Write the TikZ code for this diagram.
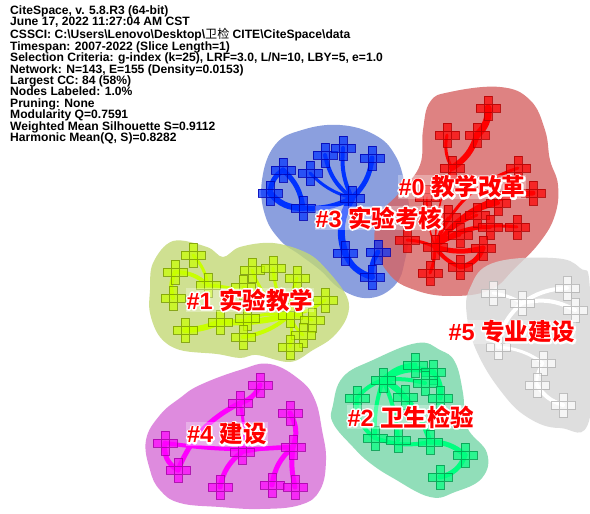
\documentclass[tikz,border=0pt]{standalone}
\usepackage{fontspec}
\setmainfont{Liberation Sans}
\newfontfamily\cjk{Noto Sans CJK SC}
\pgfdeclarelayer{blobs}\pgfdeclarelayer{edges}
\pgfsetlayers{blobs,edges,main}
\definecolor{bRed}{RGB}{214,99,99}
\definecolor{bBlue}{RGB}{111,136,214}
\definecolor{bYg}{RGB}{195,217,118}
\definecolor{bMag}{RGB}{214,111,214}
\definecolor{bGrn}{RGB}{118,214,168}
\definecolor{bGry}{RGB}{214,214,214}
\definecolor{eRed}{RGB}{255,0,0}
\definecolor{eBlue}{RGB}{0,50,255}
\definecolor{eYg}{RGB}{200,255,0}
\definecolor{eMag}{RGB}{255,0,255}
\definecolor{eGrn}{RGB}{0,255,128}
\tikzset{
  blob/.style={fill=#1, fill opacity=0.8, draw=none},
  cr/.style 2 args={minimum size=28pt, inner sep=0pt, path picture={
    \path[fill=#1, fill opacity=0.7, draw=#2, line width=0.6pt, draw opacity=0.8]
      ([xshift=-12pt,yshift=-3.8pt]path picture bounding box.center) rectangle ([xshift=12pt,yshift=3.8pt]path picture bounding box.center)
      ([xshift=-3.8pt,yshift=-12pt]path picture bounding box.center) rectangle ([xshift=3.8pt,yshift=12pt]path picture bounding box.center);
  }},
  rn/.style={cr={eRed}{red!70!black}},
  bn/.style={cr={eBlue}{blue!70!black}},
  yn/.style={cr={eYg}{eYg!60!black}},
  mn/.style={cr={eMag}{eMag!65!black}},
  gn/.style={cr={eGrn}{eGrn!60!black}},
  wn/.style={cr={white}{black!30}},
  lbl/.style={font=\fontsize{23.5}{23.5}\selectfont, inner sep=1pt},
  lblbox/.style={lbl, fill=white, fill opacity=0.3, text opacity=0},
}
% white outline drawn by the text itself (render mode 2: fill, then stroke)
\newcommand\haloed[1]{\special{pdf:literal direct q 1 1 1 RG 3.2 w 1 j 1 Tr}#1\special{pdf:literal direct 0 Tr Q}}
\newcommand\clab[3]{%
  \node[lblbox] at (#2) {#3};
  \node[lbl,text=white] at (#2) {\haloed{#3}};
  \node[lbl,text=red] (#1) at (#2) {#3};
}
\begin{document}
\begin{tikzpicture}[x=1pt,y=-1pt]
\useasboundingbox (0,0) rectangle (590,514);
% ---------- blobs
\begin{pgfonlayer}{blobs}
\fill[white] (0,0) rectangle (590,514);
\path[blob=bBlue] plot[smooth cycle, tension=0.7] coordinates {(275,145) (302,130) (340,125) (375,135) (395,155) (405,185) (410,220) (405,260) (395,285) (370,298) (342,290) (320,270) (300,255) (280,240) (265,215) (262,180)};
\path[blob=bYg] plot[smooth cycle, tension=0.6] coordinates {(153,263) (173,241) (207,247) (223,257) (240,247) (273,243) (307,253) (327,270) (347,297) (347,317) (333,337) (313,350) (290,362) (257,355) (240,358) (217,354) (180,350) (160,337) (150,313) (150,290)};
\path[blob=bRed] plot[smooth cycle, tension=0.7] coordinates {(450,92) (500,87) (530,100) (545,130) (550,160) (558,185) (555,215) (540,242) (515,268) (490,290) (450,296) (415,290) (390,275) (375,245) (380,215) (400,192) (420,165) (423,130) (430,102)};
\path[blob=bMag] plot[smooth cycle, tension=0.7] coordinates {(200,385) (240,370) (270,364) (300,380) (315,400) (322,430) (326,460) (320,490) (300,505) (260,509) (220,507) (180,503) (160,490) (150,470) (146,440) (160,415) (180,398)};
\path[blob=bGrn] plot[smooth cycle, tension=0.7] coordinates {(417,343) (440,350) (455,362) (463,393) (467,427) (487,453) (482,478) (455,492) (430,497) (393,478) (370,463) (353,447) (333,423) (333,405) (343,377) (373,360)};
\path[blob=bGry] plot[smooth cycle, tension=0.7] coordinates {(493,263) (553,258) (580,268) (590,290) (590,417) (560,428) (527,417) (500,390) (477,352) (467,317) (470,288)};
\end{pgfonlayer}
% ---------- header
\node[anchor=north west, align=left, inner sep=0pt, font=\bfseries\fontsize{12.1}{11.4}\selectfont] (hdr) at (10,5.5) {CiteSpace, v. 5.8.R3 (64-bit)\\
June 17, 2022 11:27:04 AM CST\\
CSSCI: C:\textbackslash Users\textbackslash Lenovo\textbackslash Desktop\textbackslash{\mdseries\cjk 卫检} CITE\textbackslash CiteSpace\textbackslash data\\
Timespan: 2007-2022 (Slice Length=1)\\
Selection Criteria: g-index (k=25), LRF=3.0, L/N=10, LBY=5, e=1.0\\
Network: N=143, E=155 (Density=0.0153)\\
Largest CC: 84 (58\%)\\
Nodes Labeled: 1.0\%\\
Pruning: None\\
Modularity Q=0.7591\\
Weighted Mean Silhouette S=0.9112\\
Harmonic Mean(Q, S)=0.8282};
% ---------- red nodes
\node[rn] (r1) at (488,108) {}; \node[rn] (r2) at (477,135) {}; \node[rn] (r3) at (447,135) {};
\node[rn] (r4) at (452,168) {}; \node[rn] (r5) at (518,168) {}; \node[rn] (r6) at (533,193) {};
\node[rn] (r7) at (498,203) {}; \node[rn] (r8) at (427,197) {}; \node[rn] (r9) at (477,215) {};
\node[rn] (r10) at (490,227) {}; \node[rn] (r11) at (517,227) {}; \node[rn] (r12) at (460,235) {};
\node[rn] (r13) at (407,240) {}; \node[rn] (r14) at (435,247) {}; \node[rn] (r15) at (483,248) {};
\node[rn] (r16) at (460,267) {}; \node[rn] (r17) at (430,273) {}; \node[rn] (r18) at (448,217) {};
% blue nodes
\node[bn] (b1) at (283,170) {}; \node[bn] (b2) at (270,193) {}; \node[bn] (b3) at (303,208) {};
\node[bn] (b4) at (310,173) {}; \node[bn] (b5) at (325,155) {}; \node[bn] (b6) at (343,148) {};
\node[bn] (b7) at (372,158) {}; \node[bn] (b8) at (352,198) {}; \node[bn] (b9) at (345,253) {};
\node[bn] (b10) at (378,252) {}; \node[bn] (b11) at (372,277) {};
% yellow-green nodes
\node[yn] (g1) at (193,255) {}; \node[yn] (g2) at (175,272) {}; \node[yn] (g3) at (173,298) {};
\node[yn] (g4) at (208,285) {}; \node[yn] (g5) at (252,270) {}; \node[yn] (g6) at (273,268) {};
\node[yn] (g7) at (297,278) {}; \node[yn] (g8) at (243,287) {}; \node[yn] (g9) at (325,300) {};
\node[yn] (g10) at (290,315) {}; \node[yn] (g11) at (220,322) {}; \node[yn] (g12) at (247,318) {};
\node[yn] (g13) at (312,320) {}; \node[yn] (g14) at (185,330) {}; \node[yn] (g15) at (243,337) {};
\node[yn] (g16) at (303,335) {}; \node[yn] (g17) at (290,347) {};
% magenta nodes
\node[mn] (m1) at (260,385) {}; \node[mn] (m2) at (240,403) {}; \node[mn] (m3) at (290,413) {};
\node[mn] (m4) at (165,443) {}; \node[mn] (m6) at (242,452) {}; \node[mn] (m7) at (293,447) {};
\node[mn] (m8) at (178,470) {}; \node[mn] (m9) at (220,487) {}; \node[mn] (m10) at (272,485) {};
\node[mn] (m11) at (295,487) {};
% green nodes
\node[gn] (e1) at (415,365) {}; \node[gn] (e2) at (433,372) {}; \node[gn] (e3) at (383,380) {};
\node[gn] (e4) at (425,383) {}; \node[gn] (e5) at (357,398) {}; \node[gn] (e6) at (405,397) {};
\node[gn] (e7) at (440,398) {}; \node[gn] (e9) at (375,438) {}; \node[gn] (e10) at (398,440) {};
\node[gn] (e11) at (430,442) {}; \node[gn] (e12) at (465,455) {}; \node[gn] (e13) at (440,477) {};
% gray nodes
\node[wn] (w1) at (493,293) {}; \node[wn] (w2) at (522,303) {}; \node[wn] (w3) at (567,288) {};
\node[wn] (w4) at (575,310) {}; \node[wn] (w5) at (498,347) {}; \node[wn] (w6) at (543,363) {};
\node[wn] (w7) at (537,385) {}; \node[wn] (w8) at (563,405) {};
% ---------- edges
\begin{pgfonlayer}{edges}
\begin{scope}[eRed, line cap=round]
\draw[line width=7pt] (r1.center) to[bend left=25] (r2.center);
\draw[line width=6pt] (r2.center) to[bend left=20] (r4.center);
\draw[line width=3pt] (r3.center) to[bend right=20] (r4.center);
\draw[line width=1.5pt] (r4.center) to[bend right=10] (r14.center);
\draw[line width=3pt] (r14.center) to[bend left=25] (r5.center);
\draw[line width=5pt] (r14.center) to[bend left=25] (r6.center);
\draw[line width=4pt] (r14.center) to[bend left=20] (r7.center);
\draw[line width=3pt] (r14.center) to[bend left=15] (r9.center);
\draw[line width=4pt] (r14.center) to[bend left=20] (r10.center);
\draw[line width=3pt] (r14.center) to[bend left=20] (r11.center);
\draw[line width=3pt] (r14.center) to[bend left=10] (r12.center);
\draw[line width=3pt] (r14.center) to[bend right=10] (r13.center);
\draw[line width=5pt] (r14.center) to[bend right=15] (r15.center);
\draw[line width=4pt] (r14.center) to[bend right=15] (r16.center);
\draw[line width=3pt] (r14.center) to[bend left=10] (r17.center);
\draw[line width=1.5pt] (r14.center) to[bend left=10] (r18.center);
\draw[line width=1.5pt] (r14.center) to[bend left=10] (r8.center);
\draw[line width=5pt] (r15.center) to[bend left=30] (r16.center);
\end{scope}
\begin{scope}[eBlue, line cap=round]
\draw[line width=5pt] (b1.center) to[bend right=25] (b2.center);
\draw[line width=6pt] (b2.center) to[bend right=25] (b3.center);
\draw[line width=5pt] (b1.center) to[bend left=20] (b3.center);
\draw[line width=5pt] (b8.center) to[bend left=15] (b3.center);
\draw[line width=3pt] (b8.center) to[bend left=15] (b4.center);
\draw[line width=4pt] (b8.center) to[bend left=20] (b5.center);
\draw[line width=4pt] (b8.center) to[bend left=15] (b6.center);
\draw[line width=5pt] (b8.center) to[bend right=20] (b7.center);
\draw[line width=7pt] (b8.center) to[bend right=25] (b9.center);
\draw[line width=6pt] (b9.center) to[bend right=25] (b11.center);
\draw[line width=5pt] (b10.center) to[bend right=20] (b11.center);
\end{scope}
\begin{scope}[eYg, line cap=round]
\draw[line width=4pt] (g2.center) to[bend left=20] (g4.center);
\draw[line width=4pt] (g2.center) to[bend right=20] (g3.center);
\draw[line width=3pt] (g1.center) to[bend left=15] (g4.center);
\draw[line width=3pt] (g4.center) to[bend left=15] (g10.center);
\draw[line width=3pt] (g5.center) to[bend right=20] (g10.center);
\draw[line width=3pt] (g6.center) to[bend right=15] (g10.center);
\draw[line width=3pt] (g7.center) to[bend right=10] (g10.center);
\draw[line width=3pt] (g8.center) to[bend left=10] (g10.center);
\draw[line width=6pt] (g10.center) to[bend left=8] (g11.center);
\draw[line width=6pt] (g11.center) to[bend left=10] (g14.center);
\draw[line width=4pt] (g10.center) to[bend left=15] (g15.center);
\draw[line width=3pt] (g10.center) to[bend right=10] (g12.center);
\draw[line width=3pt] (g10.center) to[bend right=15] (g9.center);
\draw[line width=3pt] (g10.center) to[bend left=10] (g13.center);
\draw[line width=3pt] (g10.center) to[bend right=15] (g16.center);
\draw[line width=3pt] (g10.center) to[bend left=10] (g17.center);
\end{scope}
\begin{scope}[eMag, line cap=round]
\draw[line width=5pt] (m1.center) to[bend left=25] (m2.center);
\draw[line width=5pt] (m2.center) to[bend right=20] (m8.center);
\draw[line width=5pt] (m4.center) to[bend right=35] (m8.center);
\draw[line width=4pt] (m4.center) to[bend right=6] (m7.center);
\draw[line width=3pt] (m2.center) to[bend left=10] (m6.center);
\draw[line width=5pt] (m6.center) to[bend right=20] (m9.center);
\draw[line width=4pt] (m6.center) to[bend left=5] (m7.center);
\draw[line width=5pt] (m3.center) to[bend left=25] (m7.center);
\draw[line width=5pt] (m7.center) to[bend right=20] (m10.center);
\draw[line width=5pt] (m7.center) to[bend right=10] (m11.center);
\end{scope}
\begin{scope}[eGrn, line cap=round]
\draw[line width=5pt] (e3.center) to[bend left=20] (e1.center);
\draw[line width=6pt] (e3.center) to[bend left=25] (e2.center);
\draw[line width=5pt] (e2.center) to[bend left=25] (e7.center);
\draw[line width=4pt] (e3.center) to[bend left=10] (e4.center);
\draw[line width=5pt] (e3.center) to[bend left=15] (e6.center);
\draw[line width=4pt] (e3.center) to[bend right=15] (e5.center);
\draw[line width=4pt] (e3.center) to[bend right=10] (e9.center);
\draw[line width=4pt] (e3.center) to[bend left=10] (e10.center);
\draw[line width=5pt] (e3.center) to[bend left=20] (e11.center);
\draw[line width=4pt] (e5.center) to[bend right=30] (e9.center);
\draw[line width=4pt] (e9.center) to[bend right=15] (e11.center);
\draw[line width=5pt] (e11.center) to[bend left=20] (e12.center);
\draw[line width=5pt] (e12.center) to[bend left=30] (e13.center);
\end{scope}
\begin{scope}[white, line cap=round]
\draw[line width=3pt] (w1.center) to[bend left=10] (w2.center);
\draw[line width=4pt] (w2.center) to[bend left=15] (w3.center);
\draw[line width=4pt] (w2.center) to[bend left=20] (w4.center);
\draw[line width=4pt] (w2.center) to[bend right=20] (w5.center);
\draw[line width=3pt] (w5.center) to[bend left=15] (w6.center);
\draw[line width=3pt] (w6.center) to[bend right=20] (w7.center);
\draw[line width=4pt] (w7.center) to[bend right=20] (w8.center);
\end{scope}
\end{pgfonlayer}
% ---------- labels
\clab{L0}{462,187}{\bfseries\#0 {\cjk 教学改革}}
\clab{L3}{379,218}{\bfseries\#3 {\cjk 实验考核}}
\clab{L1}{250,300}{\bfseries\#1 {\cjk 实验教学}}
\clab{L5}{512,332}{\bfseries\#5 {\cjk 专业建设}}
\clab{L2}{411,417}{\bfseries\#2 {\cjk 卫生检验}}
\clab{L4}{227,434}{\bfseries\#4 {\cjk 建设}}
\end{tikzpicture}
\end{document}
